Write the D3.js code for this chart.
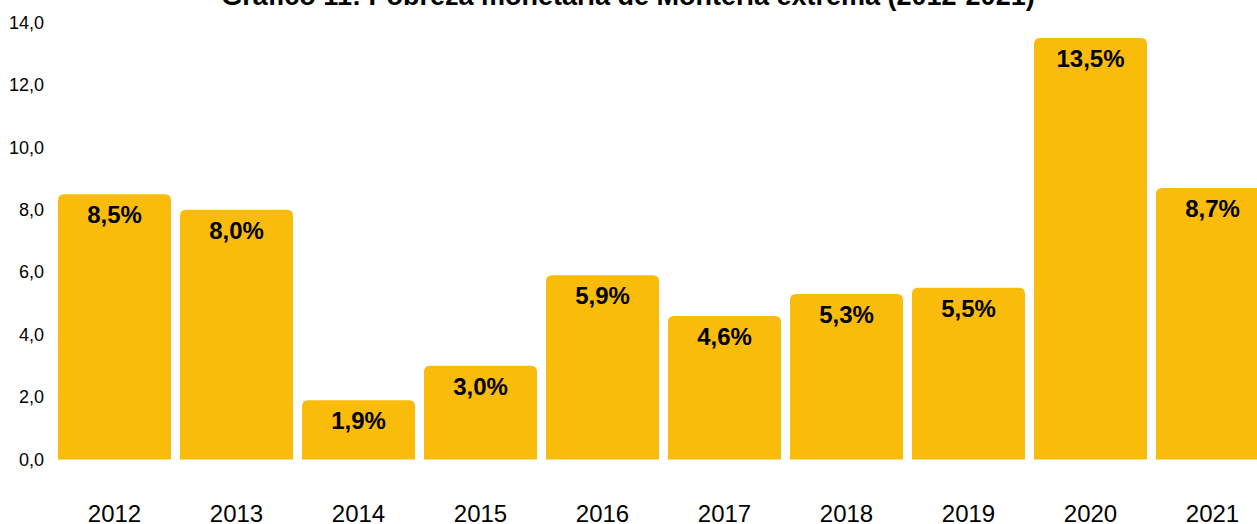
<!DOCTYPE html>
<html>
<head>
<meta charset="utf-8">
<script src="https://cdn.jsdelivr.net/npm/d3@7"></script>
<style>
  html, body { margin: 0; padding: 0; background: #fff; }
  svg { display: block; font-family: "Liberation Sans", Arial, Helvetica, sans-serif; }
</style>
</head>
<body>
<div id="chart"></div>
<script>
// data
var years = ['2012', '2013', '2014', '2015', '2016', '2017', '2018', '2019', '2020', '2021'];
var values = [8.5, 8.0, 1.9, 3.0, 5.9, 4.6, 5.3, 5.5, 13.5, 8.7];
var yTicks = [0, 2, 4, 6, 8, 10, 12, 14];
var title = 'Gráfico 11: Pobreza monetaria de Montería extrema (2012-2021)';

var width = 1257, height = 524;
var barColor = '#f9bc0b';

var svg = d3.select('#chart').append('svg')
    .attr('width', width)
    .attr('height', height);

var x = d3.scaleBand()
    .domain(years)
    .range([53.5, 1273.5])
    .paddingInner(9 / 122)
    .paddingOuter(4.5 / 122);

var y = d3.scaleLinear()
    .domain([0, 14])
    .range([459.5, 22.5]);

// title, cut off by the top edge like in the source
svg.append('text')
    .attr('x', 628)
    .attr('y', 5)
    .attr('text-anchor', 'middle')
    .style('font-size', '27px')
    .style('font-weight', 'bold')
    .text(title);

// y axis: labels only
var yAxis = d3.axisLeft(y)
    .tickValues(yTicks)
    .tickSize(0)
    .tickPadding(0)
    .tickFormat(function(d){ return d3.format('.1f')(d).replace('.', ','); });

var gy = svg.append('g')
    .attr('transform', 'translate(44,0)')
    .call(yAxis);
gy.select('.domain').remove();
gy.selectAll('text')
    .style('font-family', 'inherit')
    .style('font-size', '18px')
    .attr('fill', '#000');

// x axis: labels only
var xAxis = d3.axisBottom(x).tickSize(0).tickPadding(0);
var gx = svg.append('g')
    .attr('transform', 'translate(0,522)')
    .call(xAxis);
gx.select('.domain').remove();
gx.selectAll('text')
    .style('font-family', 'inherit')
    .style('font-size', '24px')
    .attr('fill', '#000')
    .attr('dy', '0');

// bars with rounded top corners
function barPath(x0, w, yTop, yBase, r) {
    return 'M' + x0 + ',' + yBase +
        'V' + (yTop + r) +
        'Q' + x0 + ',' + yTop + ' ' + (x0 + r) + ',' + yTop +
        'H' + (x0 + w - r) +
        'Q' + (x0 + w) + ',' + yTop + ' ' + (x0 + w) + ',' + (yTop + r) +
        'V' + yBase + 'Z';
}

var bars = svg.append('g');
bars.selectAll('path')
    .data(values)
    .enter().append('path')
    .attr('d', function(d, i){
        return barPath(x(years[i]), x.bandwidth(), y(d), y(0), 6);
    })
    .attr('fill', barColor);

// value labels inside the top of each bar
bars.selectAll('text')
    .data(values)
    .enter().append('text')
    .attr('x', function(d, i){ return x(years[i]) + x.bandwidth() / 2; })
    .attr('y', function(d){ return y(d) + 29; })
    .attr('text-anchor', 'middle')
    .style('font-size', '24px')
    .style('font-weight', 'bold')
    .text(function(d){ return d3.format('.1f')(d).replace('.', ',') + '%'; });
</script>
</body>
</html>
